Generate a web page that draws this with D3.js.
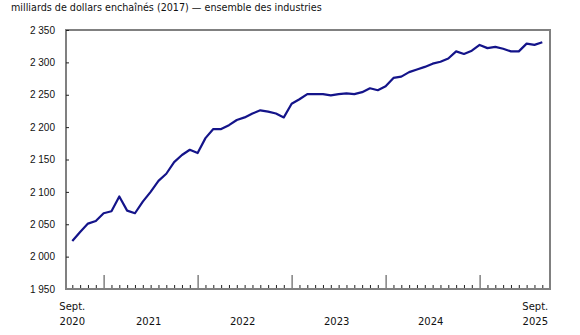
<!DOCTYPE html>
<html>
<head>
<meta charset="utf-8">
<script src="https://cdn.jsdelivr.net/npm/d3@7"></script>
<style>
  body { margin: 0; background: #fff; }
  svg { display: block; font-family: "DejaVu Sans", Verdana, sans-serif; }
</style>
</head>
<body>
<div id="graphique"></div>
<script>
// Données : PIB réel, ensemble des industries, sept. 2020 à sept. 2025
const titre = "milliards de dollars enchaînés (2017) — ensemble des industries";
const debut = new Date(2020, 8, 1);
const fin = new Date(2025, 8, 1);
const valeurs = [
  2024, 2038, 2051, 2055, 2067, 2070, 2093, 2071, 2067, 2085, 2100, 2117, 2128,
  2146, 2157, 2165, 2160, 2183, 2197, 2197, 2203, 2211, 2215, 2221, 2226, 2224,
  2221, 2215, 2236, 2243, 2251, 2251, 2251, 2249, 2251, 2252, 2251, 2254, 2260,
  2257, 2263, 2276, 2278, 2285, 2289, 2293, 2298, 2301, 2306, 2317, 2313, 2318,
  2327, 2322, 2324, 2321, 2317, 2317, 2329, 2327, 2331
];
const yTicks = [1950, 2000, 2050, 2100, 2150, 2200, 2250, 2300, 2350];
const annees = ["2021", "2022", "2023", "2024"];
const etiquettesBouts = [["Sept.", "2020"], ["Sept.", "2025"]];

const mois = d3.timeMonth.range(debut, d3.timeMonth.offset(fin, 1));
const cle = d3.timeFormat("%Y-%m");
const donnees = mois.map((d, i) => ({ date: d, cle: cle(d), valeur: valeurs[i] }));

const largeur = 580, hauteur = 335;
const cadre = { left: 66, right: 550, top: 30, bottom: 289 };

const fr = d3.formatLocale({ decimal: ",", thousands: " ", grouping: [3], currency: ["", " $"] });
const fmt = fr.format(",d");

const svg = d3.select("#graphique").append("svg")
  .attr("width", largeur).attr("height", hauteur);

const x = d3.scalePoint()
  .domain(donnees.map(d => d.cle))
  .range([72.3, 542.3]);

const y = d3.scaleLinear()
  .domain([1950, 2350])
  .range([cadre.bottom, cadre.top]);

// Titre
svg.append("text")
  .attr("x", 11).attr("y", 11)
  .style("font-size", "9.6px").style("fill", "#111")
  .text(titre);

// Cadre
svg.append("rect")
  .attr("x", cadre.left).attr("y", cadre.top)
  .attr("width", cadre.right - cadre.left).attr("height", cadre.bottom - cadre.top)
  .attr("fill", "none").attr("stroke", "#808080").attr("stroke-width", 2);

// Axe Y
const axeY = svg.append("g")
  .attr("transform", `translate(${cadre.left},0)`)
  .call(d3.axisLeft(y).tickValues(yTicks).tickFormat(fmt).tickSize(-3).tickPadding(11));
axeY.select(".domain").remove();
axeY.selectAll("line").attr("stroke", "#222");
axeY.selectAll("text").style("font-size", "10px").attr("fill", "#111");

// Axe X : petites graduations mensuelles
const axeX = svg.append("g")
  .attr("transform", `translate(0,${cadre.bottom})`)
  .call(d3.axisBottom(x).tickValues(donnees.filter(d => d.date.getMonth() !== 0).map(d => d.cle))
    .tickSize(-4).tickFormat(""));
axeX.select(".domain").remove();
axeX.selectAll("line").attr("stroke", "#222");

// Grandes graduations en janvier
const axeMaj = svg.append("g")
  .attr("transform", `translate(0,${cadre.bottom})`)
  .call(d3.axisBottom(x).tickValues(donnees.filter(d => d.date.getMonth() === 0).map(d => d.cle))
    .tickSize(-14).tickFormat(""));
axeMaj.select(".domain").remove();
axeMaj.selectAll("line").attr("stroke", "#808080").attr("stroke-width", 1.5);

// Ligne de base
svg.append("line")
  .attr("x1", cadre.left - 1).attr("x2", cadre.right + 1)
  .attr("y1", cadre.bottom).attr("y2", cadre.bottom)
  .attr("stroke", "#808080").attr("stroke-width", 2);

// Étiquettes des années
const etiquettes = svg.append("g").style("font-size", "10px").attr("fill", "#111");
annees.forEach(a => {
  const cx = (x(`${a}-01`) + x(`${a}-12`)) / 2 + 2;
  etiquettes.append("text").attr("x", cx).attr("y", 325)
    .attr("text-anchor", "middle").text(a);
});
const bouts = [x(donnees[0].cle), x(donnees[donnees.length - 1].cle) - 7];
etiquettesBouts.forEach((lignes, i) => {
  lignes.forEach((t, j) => {
    etiquettes.append("text").attr("x", bouts[i]).attr("y", 310 + j * 15)
      .attr("text-anchor", "middle").text(t);
  });
});

// Série
svg.append("path")
  .datum(donnees)
  .attr("fill", "none")
  .attr("stroke", "#14148a")
  .attr("stroke-width", 2.2)
  .attr("stroke-linejoin", "round")
  .attr("d", d3.line().x(d => x(d.cle)).y(d => y(d.valeur)));
</script>
</body>
</html>
